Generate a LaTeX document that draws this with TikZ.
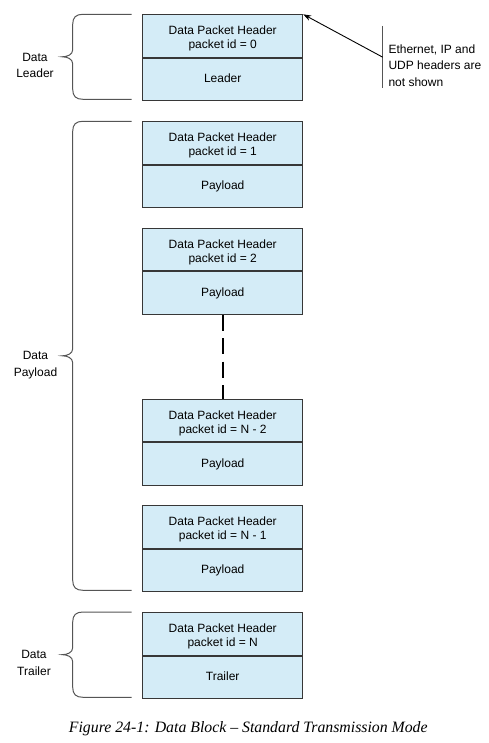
\documentclass[tikz,border=0pt]{standalone}
\usepackage{fontspec}
\setmainfont{Liberation Sans}
\newfontfamily\capfont{Liberation Serif}
\usetikzlibrary{arrows.meta}
\definecolor{boxfill}{RGB}{212,236,247}
\definecolor{boxline}{RGB}{55,55,55}
\definecolor{bracecol}{RGB}{85,85,85}
\tikzset{
  hdr/.style={draw=boxline, fill=boxfill, line width=1pt, minimum width=160pt,
    minimum height=42.5pt, inner sep=0pt, anchor=north},
  bdy/.style={hdr, font=\fontsize{12}{14}\selectfont, text height=8.6pt, text depth=2.5pt},
  hdrtext/.style={anchor=north, align=center, font=\fontsize{12}{14}\selectfont, inner sep=0pt},
  sidelabel/.style={anchor=north, align=center, font=\fontsize{12}{16.4}\selectfont, inner sep=0pt},
  notetext/.style={anchor=west, align=left, font=\fontsize{12}{16.2}\selectfont, inner sep=0pt},
  bracepath/.style={draw=bracecol, line width=1pt},
  dashline/.style={draw=black, line width=2pt, dash pattern=on 16pt off 7.5pt},
  noteline/.style={draw=bracecol, line width=1pt},
  notearrow/.style={draw=black, line width=0.9pt, -{Stealth[length=8pt,width=5.5pt]}},
  captext/.style={anchor=base, inner sep=0pt, font=\capfont\itshape\fontsize{15.8}{18}\selectfont}
}
\newcommand\databrace[2]{%
  \pgfmathsetmacro\brm{(#1+#2)/2}%
  \draw[bracepath] (131.7,#1) -- (83,#1) .. controls (76,#1) and (72.7,{#1+3}) .. (72.7,{#1+10})
    -- (72.7,{\brm-7}) .. controls (72.7,{\brm-2}) and (67,\brm) .. (62.3,\brm)
    .. controls (67,\brm) and (72.7,{\brm+2}) .. (72.7,{\brm+7})
    -- (72.7,{#2-10}) .. controls (72.7,{#2-3}) and (76,#2) .. (83,#2) -- (131.7,#2);}
\begin{document}
\begin{tikzpicture}[x=1pt,y=-1pt]
\useasboundingbox (0,0) rectangle (489,743);

% packet boxes
\node[hdr] (h0) at (222.7,14.3) {};
\node[hdrtext] (t0) at ([yshift=-11.7pt]h0.north) {Data Packet Header\\packet id = 0};
\node[bdy] (b0) at (h0.south) {Leader};

\node[hdr] (h1) at (222.7,121.3) {};
\node[hdrtext] (t1) at ([yshift=-11.7pt]h1.north) {Data Packet Header\\packet id = 1};
\node[bdy] (b1) at (h1.south) {Payload};

\node[hdr] (h2) at (222.7,227.7) {};
\node[hdrtext] (t2) at ([yshift=-11.7pt]h2.north) {Data Packet Header\\packet id = 2};
\node[bdy] (b2) at (h2.south) {Payload};

\node[hdr] (h3) at (222.7,398.7) {};
\node[hdrtext] (t3) at ([yshift=-11.7pt]h3.north) {Data Packet Header\\packet id = N - 2};
\node[bdy] (b3) at (h3.south) {Payload};

\node[hdr] (h4) at (222.7,505.3) {};
\node[hdrtext] (t4) at ([yshift=-11.7pt]h4.north) {Data Packet Header\\packet id = N - 1};
\node[bdy] (b4) at (h4.south) {Payload};

\node[hdr] (h5) at (222.7,612) {};
\node[hdrtext] (t5) at ([yshift=-11.7pt]h5.north) {Data Packet Header\\packet id = N};
\node[bdy] (b5) at (h5.south) {Trailer};

% dashed continuation
\draw[dashline] (b2.south) -- (h3.north);

% braces and labels
\databrace{14.3}{99.3}
\databrace{121.3}{590.3}
\databrace{612}{697.3}
\node[sidelabel] (lleader) at (35,53) {Data\\Leader};
\node[sidelabel] (lpayload) at (35.5,351.4) {Data\\Payload};
\node[sidelabel] (ltrailer) at (34,650.4) {Data\\Trailer};

% note
\coordinate (nt) at (382.7,26);
\coordinate (nb) at (382.7,88.3);
\coordinate (nm) at (382.7,57.2);
\draw[noteline] (nt) -- (nb);
\draw[notearrow] (nm) -- (h0.north east);
\node[notetext] (note) at (388.3,65.7) {Ethernet, IP and\\UDP headers are\\not shown};

% caption
\node[captext] (cap) at (248.3,732.7) {Figure 24-1: Data Block – Standard Transmission Mode};
\end{tikzpicture}
\end{document}
